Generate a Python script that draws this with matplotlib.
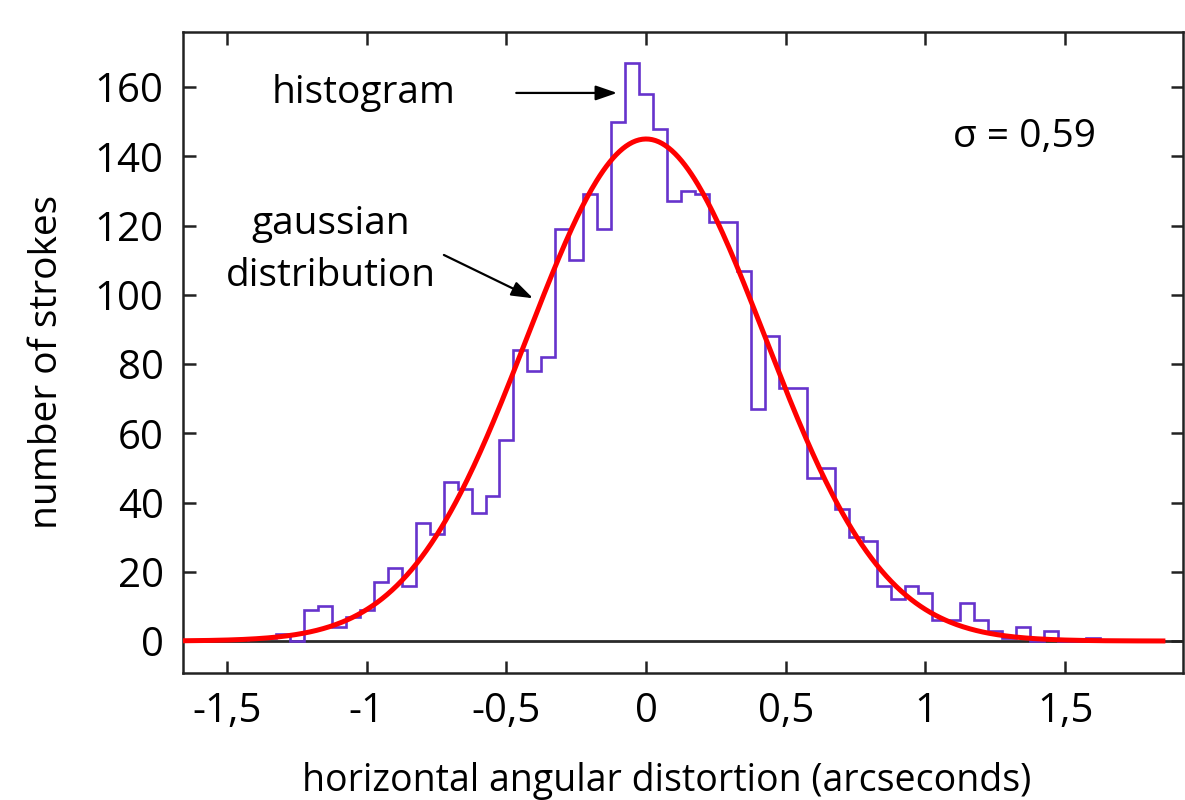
# histogram of horizontal angular distortion with gaussian fit

import numpy as np
import matplotlib
matplotlib.use("Agg")
import matplotlib.pyplot as plt

plt.rcParams['font.family'] = ['Open Sans', 'DejaVu Sans']

# bin centres (arcsec), bin width 0.05
bin_centers = [-1.40, -1.35, -1.30, -1.25, -1.20, -1.15, -1.10, -1.05, -1.00, -0.95,
               -0.90, -0.85, -0.80, -0.75, -0.70, -0.65, -0.60, -0.55, -0.50, -0.45,
               -0.40, -0.35, -0.30, -0.25, -0.20, -0.15, -0.10, -0.05, 0.00, 0.05,
               0.10, 0.15, 0.20, 0.25, 0.30, 0.35, 0.40, 0.45, 0.50, 0.55,
               0.60, 0.65, 0.70, 0.75, 0.80, 0.85, 0.90, 0.95, 1.00, 1.05,
               1.10, 1.15, 1.20, 1.25, 1.30, 1.35, 1.40, 1.45, 1.50, 1.55, 1.60]
counts = [1, 1, 2, 0, 9, 10, 4, 7, 9, 17,
          21, 16, 34, 31, 46, 44, 37, 42, 58, 84,
          78, 82, 119, 110, 129, 119, 150, 167, 158, 148,
          127, 130, 129, 121, 121, 107, 67, 88, 73, 73,
          47, 50, 38, 30, 29, 16, 12, 16, 14, 6,
          6, 11, 6, 3, 1, 4, 0, 3, 0, 0, 1]
bin_width = 0.05

# fitted gaussian
gauss_amp = 145.0
gauss_mu = 0.0
gauss_sigma = 0.425
curve_range = (-1.66, 1.85)

xtick_vals = [-1.5, -1, -0.5, 0, 0.5, 1, 1.5]
xtick_labels = ['-1,5', '-1', '-0,5', '0', '0,5', '1', '1,5']
ytick_vals = [0, 20, 40, 60, 80, 100, 120, 140, 160]

W, H = 1185, 800
fig = plt.figure(figsize=(W / 100, H / 100), dpi=100)
ax = fig.add_axes([183 / W, 1 - 673 / H, (1183 - 183) / W, (673 - 32) / H])

edges = np.append(np.array(bin_centers) - bin_width / 2, bin_centers[-1] + bin_width / 2)

ax.axhline(0, color='#2a2a2a', lw=2.0, zorder=1)
ax.stairs(counts, edges, color='#6633cc', lw=1.9, zorder=2)

xc = np.linspace(curve_range[0], curve_range[1], 600)
yc = gauss_amp * np.exp(-0.5 * ((xc - gauss_mu) / gauss_sigma) ** 2)
ax.plot(xc, yc, color='#ff0000', lw=3.6, zorder=3)

ax.set_xlim(-1.658, 1.922)
ax.set_ylim(-9.24, 175.9)

ax.set_xticks(xtick_vals)
ax.set_xticklabels(xtick_labels)
ax.set_yticks(ytick_vals)
ax.tick_params(axis='both', direction='in', length=9, width=1.8, color='#222222',
               labelsize=29, top=True, right=True)
ax.tick_params(axis='x', pad=13)
ax.tick_params(axis='y', pad=14)
for s in ax.spines.values():
    s.set_linewidth(1.8)
    s.set_color('#222222')

arrow_style = dict(arrowstyle='-|>,head_length=1.3,head_width=0.45',
                   color='black', lw=1.6, shrinkA=0, shrinkB=0)

# annotations
ax.text(-1.01, 155.5, 'histogram', fontsize=28, ha='center', va='baseline')
ax.annotate('', xy=(-0.104, 158.3), xytext=(-0.465, 158.3), arrowprops=arrow_style)
ax.text(-1.13, 117.5, 'gaussian', fontsize=28, ha='center', va='baseline')
ax.text(-1.13, 102.5, 'distribution', fontsize=28, ha='center', va='baseline')
ax.annotate('', xy=(-0.405, 99), xytext=(-0.724, 111.5), arrowprops=arrow_style)
ax.text(1.353, 142.7, 'σ = 0,59', fontsize=28, ha='center', va='baseline')

fig.text(47 / W, 1 - 362 / H, 'number of strokes', rotation=90, fontsize=28,
         ha='center', va='center')
fig.text(667 / W, 1 - 791 / H, 'horizontal angular distortion (arcseconds)',
         fontsize=27, ha='center', va='baseline')

fig.savefig('out.png', dpi=100)
